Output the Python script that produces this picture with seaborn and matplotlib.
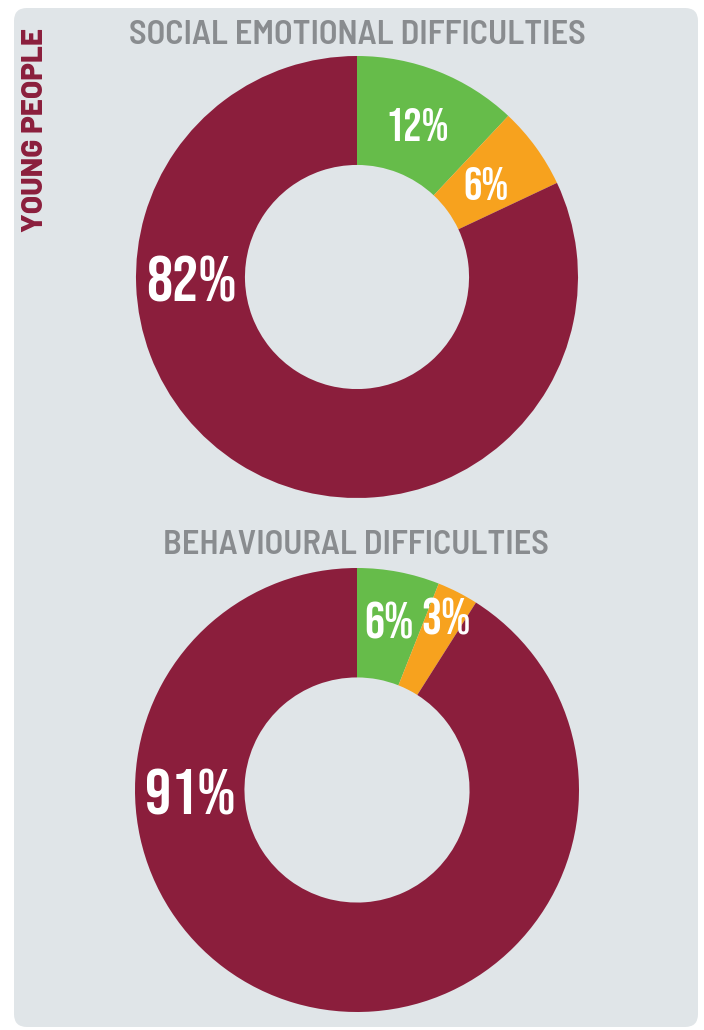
import matplotlib
matplotlib.use("Agg")
import matplotlib.pyplot as plt
import seaborn as sns
import numpy as np
from matplotlib.patches import FancyBboxPatch

sns.set_theme(style="white")
plt.rcParams['font.family'] = ['Bebas Neue', 'DejaVu Sans']

# ---- data ----
side_label = "YOUNG PEOPLE"
titles = ["SOCIAL EMOTIONAL DIFFICULTIES", "BEHAVIOURAL DIFFICULTIES"]
categories = ["Low", "Medium", "High"]
social_emotional = [12, 6, 82]
behavioural = [6, 3, 91]
pct_labels_1 = ["12%", "6%", "82%"]
pct_labels_2 = ["6%", "3%", "91%"]

colors = ["#66bc4a", "#f7a21e", "#8b1e3c"]
panel_color = "#e0e5e8"
title_color = "#898c8f"

W, H = 704, 1030
fig = plt.figure(figsize=(W / 100, H / 100), dpi=100)
fig.patch.set_facecolor("white")

# background panel in pixel coordinates
bg = fig.add_axes([0, 0, 1, 1])
bg.set_xlim(0, W)
bg.set_ylim(H, 0)
bg.axis("off")
bg.add_patch(FancyBboxPatch((14, 8), 684, 1019,
                            boxstyle="round,pad=0,rounding_size=13",
                            facecolor=panel_color, edgecolor="none"))

renderer = fig.canvas.get_renderer()


def fit_text(x, y, s, target_w, rotation=0, **kw):
    t = bg.text(x, y, s, rotation=rotation, ha="center", va="center", **kw)
    size = kw.get("fontsize", 20)
    for _ in range(3):
        bb = t.get_window_extent(renderer)
        w = bb.height if rotation else bb.width
        size = size * target_w / w
        t.set_fontsize(size)
    return t


fit_text(357, 36, titles[0], 457, fontsize=22, color=title_color,
         family=["Barlow Semi Condensed", "DejaVu Sans"], fontweight="semibold")
fit_text(356, 546, titles[1], 386, fontsize=22, color=title_color,
         family=["Barlow Semi Condensed", "DejaVu Sans"], fontweight="semibold")
fit_text(36, 130, side_label, 204, rotation=90, fontsize=18, color=colors[2],
         family=["Barlow", "DejaVu Sans"], fontweight=800)

donuts = [
    dict(values=social_emotional, labels=pct_labels_1, cx=357, cy=277, R=221,
         radii=[0.74, 0.72], small=33, big=47),
    dict(values=behavioural, labels=pct_labels_2, cx=357, cy=790, R=222,
         radii=[0.78, 0.88], small=36, big=47),
]

for d in donuts:
    cx, cy, R = d["cx"], d["cy"], d["R"]
    ax = fig.add_axes([(cx - R) / W, 1 - (cy + R) / H, 2 * R / W, 2 * R / H])
    ax.pie(d["values"], colors=colors, startangle=90, counterclock=False,
           radius=1, wedgeprops=dict(width=0.493, linewidth=0))
    ax.set_xlim(-1, 1)
    ax.set_ylim(-1, 1)
    ax.axis("off")
    vals = np.array(d["values"], dtype=float)
    cum = np.cumsum(vals) - vals / 2
    for i in range(2):
        ang = np.deg2rad(90 - 360 * cum[i] / vals.sum())
        r = d["radii"][i]
        ax.text(r * np.cos(ang), r * np.sin(ang), d["labels"][i], color="white",
                fontsize=d["small"], ha="center", va="center_baseline")
    ax.text(-0.75, -0.01, d["labels"][2], color="white", fontsize=d["big"],
            ha="center", va="center_baseline")

fig.savefig("out.png", dpi=100, facecolor="white")
